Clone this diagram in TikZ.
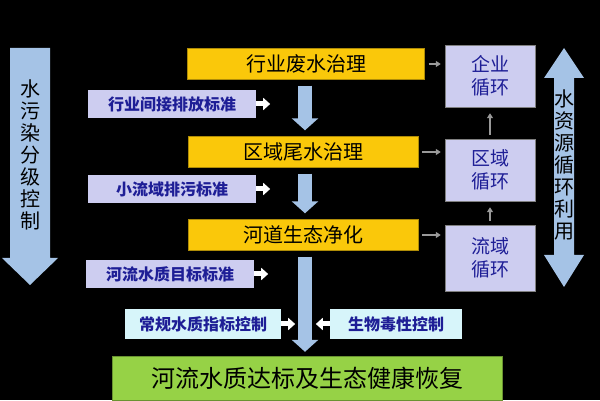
\documentclass[tikz,border=0pt]{standalone}
\usepackage{fontspec}
\setmainfont{Noto Sans CJK SC}
\usetikzlibrary{arrows.meta}
\definecolor{bgblack}{RGB}{0,0,0}
\definecolor{yel}{RGB}{250,200,10}
\definecolor{lav}{RGB}{205,205,240}
\definecolor{cyanbox}{RGB}{215,245,250}
\definecolor{grn}{RGB}{150,210,70}
\definecolor{arrblue}{RGB}{165,195,230}
\definecolor{txtblue}{RGB}{30,30,150}
\begin{document}
\begin{tikzpicture}[x=1pt,y=-1pt,
    yelbox/.style={fill=yel, draw=yel!70!black, minimum height=31pt, font=\fontsize{20}{20}\selectfont},
    stdbox/.style={fill=lav, minimum height=28pt, text=txtblue, font=\bfseries\fontsize{16}{16}\selectfont},
    cycbox/.style={fill=lav, draw=gray, minimum width=90pt, text=txtblue, align=center, font=\fontsize{19}{23}\selectfont},
    ctrlbox/.style={fill=cyanbox, minimum height=30pt, text=txtblue, font=\bfseries\fontsize{16}{16}\selectfont},
    bigdown/.style={arrblue, line width=14pt, -{Triangle[width=26pt,length=12pt]}},
    small/.style={white, line width=5pt, -{Triangle[width=12pt,length=7pt]}},
    grayarr/.style={gray!80, line width=1.5pt, -{Triangle[width=6pt,length=5pt]}}]
 \fill[bgblack] (0,0) rectangle (600,400);
 % side arrows
 \fill[arrblue] (10,48) -- (50,48) -- (50,258) -- (58,258) -- (30,285) -- (2,258) -- (10,258) -- cycle;
 \node (l) [align=center, font=\fontsize{20}{22}\selectfont] at (30,155) {水\\污\\染\\分\\级\\控\\制};
 \fill[arrblue] (564,48) -- (584,78) -- (574,78) -- (574,255) -- (584,255) -- (564,287) -- (544,255) -- (554,255) -- (554,78) -- (544,78) -- cycle;
 \node (r) [align=center, font=\fontsize{20}{22}\selectfont] at (564,165) {水\\资\\源\\循\\环\\利\\用};
 % main flow
 \node (y1) [yelbox, minimum width=237pt] at (306,64) {行业废水治理};
 \node (y2) [yelbox, minimum width=230pt] at (303,152) {区域尾水治理};
 \node (y3) [yelbox, minimum width=230pt] at (303,235) {河道生态净化};
 \node (g) [fill=grn, draw=grn!70!black, minimum width=390pt, minimum height=44pt, font=\fontsize{24}{24}\selectfont] at (307,378) {河流水质达标及生态健康恢复};
 \draw[bigdown] ([yshift=-6pt]y1.south -| 305,0) -- ([yshift=6pt]y2.north -| 305,0);
 \draw[bigdown] ([yshift=-6pt]y2.south -| 305,0) -- ([yshift=6pt]y3.north -| 305,0);
 \draw[bigdown] ([yshift=-6pt]y3.south -| 305,0) -- ([yshift=4pt]g.north -| 305,0);
 % standards
 \node (s1) [stdbox, minimum width=168pt] at (172,104) {行业间接排放标准};
 \node (s2) [stdbox, minimum width=168pt] at (172,189) {小流域排污标准};
 \node (s3) [stdbox, minimum width=168pt] at (170,274) {河流水质目标标准};
 \foreach \s in {s1,s2,s3} \draw[small] (\s.east) -- ++(14,0);
 \node (c1) [ctrlbox, minimum width=156pt] at (203,324) {常规水质指标控制};
 \node (c2) [ctrlbox, minimum width=132pt] at (396,324) {生物毒性控制};
 \draw[small] (c1.east) -- ++(14,0);
 \draw[small] (c2.west) -- ++(-14,0);
 % cycles
 \node (e1) [cycbox, minimum height=62pt] at (490,76) {企业\\循环};
 \node (e2) [cycbox, minimum height=62pt] at (490,170) {区域\\循环};
 \node (e3) [cycbox, minimum height=66pt] at (490,258) {流域\\循环};
 \draw[grayarr] (y1.east) ++(4,0) -- ([xshift=-4pt]e1.west |- y1.east);
 \draw[grayarr] (y2.east) ++(4,0) -- ([xshift=-4pt]e2.west |- y2.east);
 \draw[grayarr] (y3.east) ++(4,0) -- ([xshift=-4pt]e3.west |- y3.east);
 \draw[grayarr] ([yshift=4pt]e2.north) -- ([yshift=-6pt]e1.south);
 \draw[grayarr] ([yshift=4pt]e3.north) -- ([yshift=-6pt]e2.south);
\end{tikzpicture}
\end{document}
